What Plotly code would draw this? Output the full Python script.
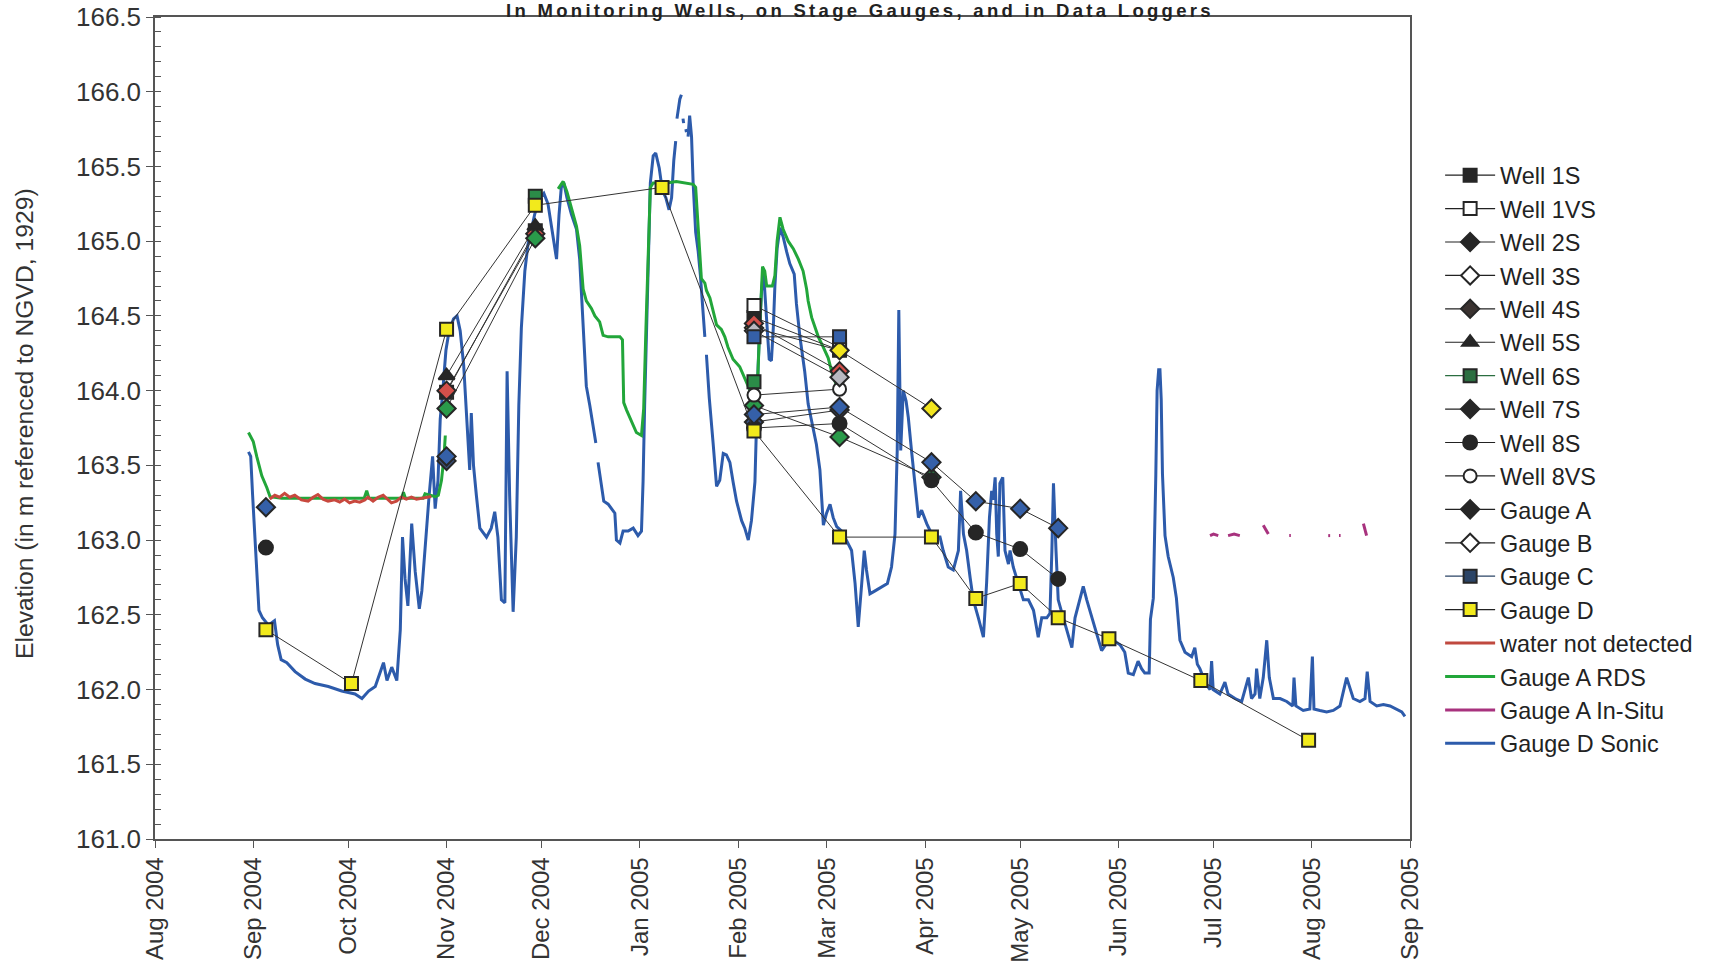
import pandas as pd
import plotly.graph_objects as go

BASE = pd.Timestamp("2004-08-01")

# ---------------- survey (manual) measurements ----------------
survey_dates = ["2004-09-05", "2004-10-02", "2004-11-01", "2004-11-29", "2005-01-08",
                "2005-02-06", "2005-03-05", "2005-04-03", "2005-04-17", "2005-05-01",
                "2005-05-13", "2005-05-29", "2005-06-27", "2005-07-31"]
N = None
well_1s  = [N, N, 163.99, 165.07, N, 164.49, 164.27, N, N, N, N, N, N, N]
well_1vs = [N, N, N, N, N, 164.57, 164.29, N, N, N, N, N, N, N]
well_2s  = [N, N, 163.53, N, N, 163.79, 163.87, N, N, N, N, N, N, N]
well_3s  = [N, N, N, N, N, 164.42, 164.27, 163.88, N, N, N, N, N, N]
well_4s  = [N, N, 164.00, 165.05, N, 164.45, 164.13, N, N, N, N, N, N, N]
well_5s  = [N, N, 164.10, 165.10, N, N, N, N, N, N, N, N, N, N]
well_6s  = [N, N, N, 165.30, N, 164.06, N, N, N, N, N, N, N, N]
well_7s  = [N, N, 163.88, 165.02, N, 163.90, 163.69, 163.42, N, N, N, N, N, N]
well_8s  = [162.95, N, N, N, N, 163.75, 163.78, 163.40, 163.05, 162.94, 162.74, N, N, N]
well_8vs = [N, N, N, N, N, 163.97, 164.01, N, N, N, N, N, N, N]
gauge_a  = [163.22, N, 163.56, N, N, 163.84, 163.89, 163.52, 163.26, 163.21, 163.08, N, N, N]
gauge_b  = [N, N, N, N, N, 164.40, 164.09, N, N, N, N, N, N, N]
gauge_c  = [N, N, N, N, N, 164.36, 164.36, N, N, N, N, N, N, N]
gauge_d  = [162.40, 162.04, 164.41, 165.24, 165.36, 163.73, 163.02, 163.02, 162.61,
            162.71, 162.48, 162.34, 162.06, 161.66]

# ---------------- logger records (day = days since 2004-08-01) ----------------
sonic_day = [29.5, 30.2, 30.8, 31.4, 32.1, 32.8, 33.9, 35.8, 37.7, 38.7, 39.8, 41.6, 44.2, 47.4,
             50.5, 54.7, 58.9, 63.1, 65.3, 67.4, 69.5, 72.1, 73.2, 74.7, 76.3, 77.4, 78.1, 78.9,
             79.8, 81.0, 82.1, 83.4, 84.2, 85.5, 86.5, 87.6, 88.4, 89.3, 90.0, 90.7, 91.8, 92.8,
             94.2, 95.3, 96.3, 97.4, 98.3, 99.3, 99.8, 100.5, 101.4, 102.5, 104.6, 106.1, 107.2,
             108.2, 109.3, 110.4, 111.1, 111.9, 113.0, 114.0, 114.8, 115.6, 116.7, 117.7, 118.8,
             119.8, 121.4, 122.7, 124.0, 125.4, 126.7, 127.5, 128.2, 129.0, 130.0, 131.4, 133.0,
             134.0, 135.1, 136.1, 137.2, 138.2, 139.1, N, 139.8, 140.6, 141.6, 143.0, 144.0, 145.1,
             145.6, 146.7, 147.7, 149.3, 150.9, 152.4, 153.5, 154.0, 154.5, 155.6, 156.3, 157.2,
             158.0, 159.1, 160.1, 161.2, 162.2, 163.0, 163.7, 164.3, N, 164.7, 165.6, 166.1, N,
             166.6, 166.8, N, 167.5, 167.7, N, 168.2, 168.7, 169.3, 169.8, 170.6, 171.4, 172.1,
             173.0, 173.5, N, 174.0, 174.9, 176.1, 177.2, 178.2, 179.3, 180.3, 181.4, 182.4, 183.5,
             185.1, 186.1, 187.2, 188.2, 189.3, 189.8, 190.3, 190.8, 191.4, 192.0, 192.7, 193.2,
             193.8, 194.5, 195.1, 195.6, 196.3, 197.2, 198.2, 199.3, 200.3, 201.7, 202.4, 203.5,
             205.0, 206.1, 207.2, 208.7, 209.8, 210.9, 211.9, 213.0, 214.0, 215.1, 216.7, 218.2,
             219.8, 220.9, 221.9, 223.0, 223.8, 224.5, 225.6, 227.2, 229.3, 231.1, 232.4, 233.5,
             234.2, 234.7, 235.3, 236.1, 237.0, 237.7, 238.7, 239.8, 240.9, 241.9, 243.5, 245.1,
             246.6, 247.7, 248.7, 250.3, 251.9, 253.5, 254.2, 255.1, 256.1, 257.2, 258.2, 259.8,
             261.4, 262.4, 263.3, 264.0, 264.5, 265.1, 265.6, 266.1, 266.6, 267.5, 268.2, 269.3,
             269.8, 270.8, 272.4, 274.0, 275.6, 277.2, 278.7, 279.8, 281.4, 282.4, 283.0, 283.5,
             284.3, 285.0, 286.6, 288.2, 289.3, 290.3, 291.9, 292.9, 294.0, 295.6, 297.1, 298.7,
             300.3, 302.4, 304.5, 306.0, 307.1, 308.7, 310.2, 311.3, 312.3, 313.7, 314.1, 315.0,
             315.8, 316.2, 316.7, 317.1, 317.5, 317.9, 318.7, 319.7, 321.3, 322.3, 323.4, 325.0,
             327.1, 328.1, 328.9, 329.7, 330.8, 331.8, 332.9, 333.4, 333.9, 336.0, 337.6, 338.6,
             340.8, 342.9, 345.0, 346.0, 347.1, 347.6, 348.6, 349.7, 350.8, 351.6, 352.9, 355.0,
             357.1, 359.0, 359.4, 360.0, 362.3, 364.4, 365.2, 365.7, 367.6, 369.7, 371.8, 373.9,
             376.0, 377.1, 378.1, 380.2, 381.8, 382.5, 383.4, 385.5, 387.6, 389.7, 391.8, 393.4,
             394.4]
sonic_elev = [163.59, 163.56, 163.30, 163.04, 162.74, 162.53, 162.48, 162.43, 162.46, 162.30,
              162.20, 162.18, 162.12, 162.07, 162.04, 162.02, 161.99, 161.97, 161.94, 161.99,
              162.02, 162.18, 162.06, 162.15, 162.06, 162.40, 163.02, 162.74, 162.56, 163.11,
              162.79, 162.54, 162.66, 163.04, 163.30, 163.56, 163.21, 163.40, 163.81, 163.97,
              164.27, 164.40, 164.48, 164.50, 164.40, 164.17, 163.85, 163.47, 163.85, 163.50,
              163.30, 163.08, 163.02, 163.08, 163.19, 163.02, 162.60, 162.58, 164.13, 163.30,
              162.52, 163.02, 163.90, 164.42, 164.80, 164.98, 165.08, 165.18, 165.29, 165.32,
              165.25, 165.06, 164.88, 165.18, 165.36, 165.39, 165.29, 165.18, 165.08, 164.88,
              164.41, 164.03, 163.90, 163.75, 163.65, N, 163.52, 163.39, 163.26, 163.24, 163.21,
              163.18, 163.00, 162.98, 163.06, 163.06, 163.08, 163.03, 163.06, 163.39, 163.90,
              164.93, 165.39, 165.57, 165.59, 165.49, 165.34, 165.29, 165.21, 165.29, 165.54,
              165.67, N, 165.82, 165.95, 165.98, N, 165.82, 165.79, N, 165.75, 165.73, N, 165.70,
              165.84, 165.70, 165.39, 165.06, 164.93, 164.77, 164.47, 164.36, N, 164.24, 163.95,
              163.65, 163.36, 163.40, 163.58, 163.57, 163.52, 163.39, 163.26, 163.13, 163.08,
              163.00, 163.13, 163.39, 163.80, 164.16, 164.42, 164.67, 164.80, 164.58, 164.42,
              164.21, 164.20, 164.42, 164.70, 164.95, 165.09, 165.03, 164.93, 164.85, 164.78,
              164.58, 164.36, 164.13, 163.91, 163.80, 163.64, 163.47, 163.10, 163.18, 163.24,
              163.15, 163.09, 163.06, 163.00, 162.93, 162.71, 162.42, 162.71, 162.93, 162.80,
              162.64, 162.66, 162.69, 162.71, 162.82, 163.04, 163.60, 164.54, 163.60, 164.00,
              163.93, 163.82, 163.60, 163.38, 163.15, 163.20, 163.11, 163.04, 163.02, 163.02,
              162.93, 162.82, 162.80, 162.93, 163.33, 163.04, 162.93, 162.75, 162.60, 162.48,
              162.35, 162.71, 163.15, 163.33, 163.27, 163.42, 163.04, 162.89, 163.38, 163.42,
              162.93, 162.84, 162.93, 162.82, 162.71, 162.60, 162.60, 162.53, 162.35, 162.48,
              162.48, 162.51, 162.93, 163.38, 162.93, 162.60, 162.48, 162.37, 162.28, 162.48,
              162.62, 162.69, 162.60, 162.48, 162.37, 162.26, 162.31, 162.33, 162.30, 162.25,
              162.11, 162.10, 162.19, 162.14, 162.11, 162.11, 162.47, 162.61, 163.44, 164.00,
              164.14, 164.14, 163.94, 163.44, 163.03, 162.89, 162.75, 162.61, 162.33, 162.25,
              162.22, 162.28, 162.17, 162.14, 162.08, 162.03, 162.00, 162.19, 162.00, 161.97,
              162.05, 161.97, 161.94, 161.92, 162.08, 161.94, 161.97, 162.14, 161.94, 162.08,
              162.33, 162.08, 161.94, 161.94, 161.92, 161.89, 162.08, 161.89, 161.86, 161.87,
              162.22, 161.87, 161.86, 161.85, 161.86, 161.89, 162.08, 162.00, 161.94, 161.92,
              161.94, 162.12, 161.92, 161.89, 161.90, 161.89, 161.87, 161.85, 161.82]

rds_day = [29.5, 31.0, 32.1, 33.7, 35.3, 36.3, 40.0, 50.0, 60.0, 66.0, 66.8, 67.5, 77.8, 78.4,
           79.0, 84.6, 85.2, 88.5, 89.4, 90.4, 91.2, 91.6, N,
           127.2, 128.8, 130.0, 131.4, 133.0, 134.0, 135.1, 136.1, 137.7, 138.8, 140.3, 141.4,
           143.0, 144.5, 146.7, 147.5, 147.9, 148.8, 149.8, 150.9, 151.9, 153.5, 154.2, 154.9,
           155.6, 156.3, 157.2, 159.8, 161.4, 164.5, 167.7, 169.8, 170.6, 171.4, 172.4, 173.5,
           174.0, 175.1, 176.1, 177.2, 178.7, 179.8, 180.8, 182.4, 184.5, 186.1, 187.2, 188.2,
           189.3, 190.0, 190.8, 191.7, 192.4, 193.0, 194.0, 194.8, 195.6, 196.3, 197.2, 198.2,
           199.8, 201.4, 203.0, 204.5, 205.6, 206.1, 207.2, 208.2, 209.3, 210.9, 212.4, 213.5,
           214.5, 215.6]
rds_elev = [163.72, 163.66, 163.56, 163.43, 163.35, 163.29, 163.28, 163.28, 163.28, 163.28,
            163.33, 163.28, 163.28, 163.32, 163.28, 163.28, 163.31, 163.29, 163.30, 163.40,
            163.56, 163.70, N,
            165.35, 165.40, 165.33, 165.23, 165.10, 164.97, 164.68, 164.60, 164.55, 164.50,
            164.46, 164.37, 164.36, 164.36, 164.36, 164.34, 163.92, 163.87, 163.82, 163.76,
            163.72, 163.70, 163.88, 164.41, 164.93, 165.36, 165.39, 165.39, 165.39, 165.40,
            165.39, 165.38, 165.36, 165.06, 164.75, 164.72, 164.67, 164.62, 164.54, 164.44,
            164.41, 164.36, 164.29, 164.21, 164.16, 164.08, 164.03, 163.98, 163.95, 163.98,
            164.42, 164.83, 164.80, 164.70, 164.70, 164.70, 164.77, 165.00, 165.16, 165.08,
            165.00, 164.95, 164.88, 164.80, 164.68, 164.60, 164.49, 164.42, 164.36, 164.29,
            164.22, 164.13, 164.07, 164.00]

dry_day = [36.2, 37.8, 39.3, 40.9, 42.5, 44.1, 46.2, 48.3, 49.9, 51.4, 53.0, 54.6, 56.7, 58.3,
           59.8, 61.4, 63.0, 64.6, 66.2, 67.2, 68.8, 70.4, 72.0, 73.5, 74.6, 76.2, 77.7, 79.3,
           80.9, 82.5, 84.1, 85.6, 87.2]
dry_elev = [163.274, 163.300, 163.287, 163.313, 163.287, 163.300, 163.269, 163.261, 163.287,
            163.305, 163.274, 163.261, 163.269, 163.254, 163.274, 163.249, 163.261, 163.254,
            163.269, 163.287, 163.261, 163.287, 163.300, 163.269, 163.249, 163.261, 163.287,
            163.274, 163.287, 163.274, 163.279, 163.287, 163.292]

insitu_day = [332.9, 334.0, 335.5, N, 338.6, 340.5, 342.3, N, 349.7, 350.5, 351.3, N,
              357.9, 358.4, N, 370.2, 370.8, N, 373.6, 374.1, N, 381.3, 381.8, 382.3]
insitu_elev = [163.03, 163.04, 163.03, N, 163.03, 163.04, 163.03, N, 163.10, 163.07, 163.04, N,
               163.03, 163.03, N, 163.03, 163.03, N, 163.03, 163.03, N, 163.11, 163.07, 163.03]

y_ticks = [161.0, 161.5, 162.0, 162.5, 163.0, 163.5, 164.0, 164.5, 165.0, 165.5, 166.0, 166.5]


def to_dates(days):
    return [None if d is None else (BASE + pd.Timedelta(days=d)).strftime("%Y-%m-%d %H:%M")
            for d in days]


DARK = "#262626"
fig = go.Figure()

# continuous records (drawn first so markers sit on top)
fig.add_trace(go.Scatter(x=to_dates(sonic_day), y=sonic_elev, mode="lines",
                         line=dict(color="#2d5bab", width=3), showlegend=False))
fig.add_trace(go.Scatter(x=to_dates(insitu_day), y=insitu_elev, mode="lines",
                         line=dict(color="#a8327e", width=3), showlegend=False))
fig.add_trace(go.Scatter(x=to_dates(rds_day), y=rds_elev, mode="lines",
                         line=dict(color="#22a63a", width=3), showlegend=False))
fig.add_trace(go.Scatter(x=to_dates(dry_day), y=dry_elev, mode="lines",
                         line=dict(color="#c8483e", width=3), showlegend=False))

# survey series: (name, values, symbol, plot fill, legend fill, line color, size)
survey = [
    ("Well 1S", well_1s, "square", DARK, DARK, "#222222", 13),
    ("Well 1VS", well_1vs, "square", "white", "white", "#222222", 13),
    ("Well 2S", well_2s, "diamond", "#3a4f78", DARK, "#222222", 14),
    ("Well 3S", well_3s, "diamond", "#f2e51e", "white", "#222222", 14),
    ("Well 4S", well_4s, "diamond", "#d4504a", "#3a3230", "#222222", 14),
    ("Well 5S", well_5s, "triangle-up", DARK, DARK, "#222222", 14),
    ("Well 6S", well_6s, "square", "#2b8c48", "#2b6e40", "#2b6e40", 13),
    ("Well 7S", well_7s, "diamond", "#2a9a4a", DARK, "#222222", 14),
    ("Well 8S", well_8s, "circle", DARK, DARK, "#222222", 14),
    ("Well 8VS", well_8vs, "circle", "white", "white", "#222222", 13),
    ("Gauge A", gauge_a, "diamond", "#3560a8", DARK, "#222222", 14),
    ("Gauge B", gauge_b, "diamond", "#b9b9c0", "white", "#222222", 14),
    ("Gauge C", gauge_c, "square", "#3560a8", "#2b4466", "#2b4466", 13),
    ("Gauge D", gauge_d, "square", "#f2ea1c", "#f2ea1c", "#222222", 13),
]

for rank, (name, vals, sym, fill, lfill, lcol, size) in enumerate(survey, start=1):
    fig.add_trace(go.Scatter(
        x=survey_dates, y=vals, mode="lines+markers", name=name, showlegend=False,
        line=dict(color="#333333", width=1),
        marker=dict(symbol=sym, size=size, color=fill, line=dict(color=DARK, width=2))))
    fig.add_trace(go.Scatter(
        x=[None], y=[None], mode="lines+markers", name=name, legendrank=rank,
        line=dict(color=lcol, width=1.2),
        marker=dict(symbol=sym, size=size, color=lfill, line=dict(color=DARK, width=2))))

line_legend = [("water not detected", "#c0493f"), ("Gauge A RDS", "#22a63a"),
               ("Gauge A In-Situ", "#a8327e"), ("Gauge D Sonic", "#2d5bab")]
for k, (name, col) in enumerate(line_legend, start=15):
    fig.add_trace(go.Scatter(x=[None], y=[None], mode="lines", name=name, legendrank=k,
                             line=dict(color=col, width=3)))

TICKFONT = dict(family="Liberation Sans, Arial, sans-serif", size=24, color="#333333")

fig.update_layout(
    width=1728, height=969,
    margin=dict(l=155, r=318, t=17, b=130, autoexpand=False),
    paper_bgcolor="white", plot_bgcolor="white",
    showlegend=True,
    legend=dict(x=1.024, xanchor="left", y=0.834, yanchor="top",
                font=dict(family="Liberation Sans, Arial, sans-serif", size=23.4, color="#222222"),
                itemwidth=50, bgcolor="rgba(0,0,0,0)", traceorder="normal"),
    xaxis=dict(type="date", range=["2004-08-01", "2005-09-01"], automargin=False,
               tickmode="linear", tick0="2004-08-01", dtick="M1", tickformat="%b %Y",
               tickangle=-90, ticks="outside", ticklen=7, tickcolor="#555555",
               showline=True, linecolor="#555555", linewidth=1.5, mirror=True,
               showgrid=False, zeroline=False, tickfont=TICKFONT),
    yaxis=dict(range=[161.0, 166.5], tickmode="array", tickvals=y_ticks, automargin=False,
               ticktext=[f"{v:.1f}" for v in y_ticks],
               ticks="outside", ticklen=7, tickcolor="#555555",
               minor=dict(dtick=0.1, ticks="inside", ticklen=6, tickcolor="#555555"),
               showline=True, linecolor="#555555", linewidth=1.5, mirror=True,
               showgrid=False, zeroline=False, tickfont=dict(TICKFONT, size=26)),
    annotations=[
        dict(text="<b><span style='letter-spacing:3.3px'>In Monitoring Wells, on Stage Gauges, "
                  "and in Data Loggers</span></b>",
             xref="paper", yref="paper", x=0.5618, y=1.0, yshift=17, xanchor="center",
             yanchor="top", borderpad=0, borderwidth=0, showarrow=False,
             font=dict(family="Liberation Sans, Arial", size=18.5, color="#222222")),
        dict(text="Elevation (in m referenced to NGVD, 1929)", textangle=-90,
             xref="paper", yref="paper", x=-0.1044, y=0.506, xanchor="center", yanchor="middle",
             showarrow=False,
             font=dict(family="Liberation Sans, Arial", size=24.7, color="#333333")),
    ],
)

# remove the default 8px page margin so the figure sits at the window's top-left corner
fig.write_html("out.html", config={"displayModeBar": False},
               post_script="document.body.style.margin='0';")
